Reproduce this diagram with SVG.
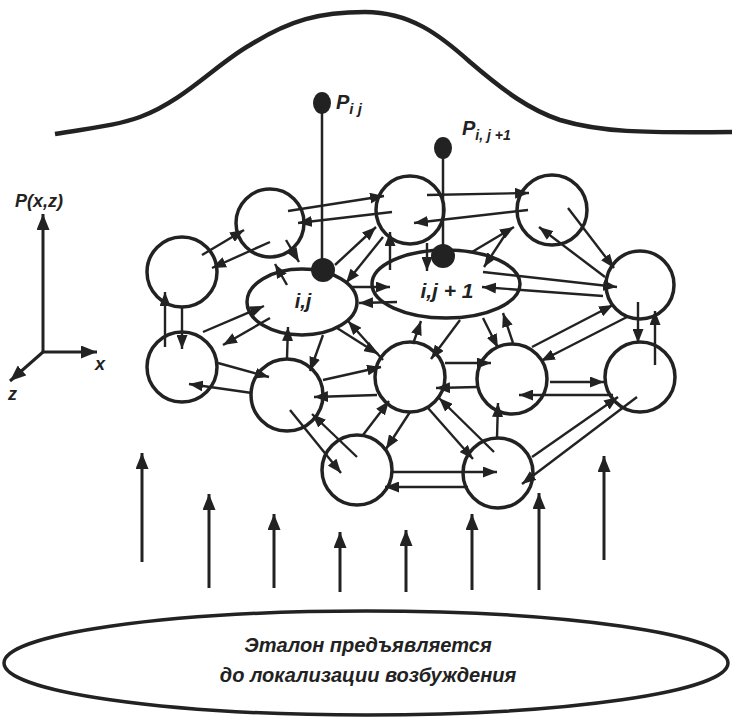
<svg xmlns="http://www.w3.org/2000/svg" width="732" height="719" viewBox="0 0 732 719">
<style>
.n{fill:none;stroke:#222;stroke-width:3.5}
.c line{stroke:#222;stroke-width:2.4;marker-end:url(#ah)}
.up line{stroke:#222;stroke-width:3;marker-end:url(#ahb)}
.t{font-family:"Liberation Sans",Arial,sans-serif;font-style:italic;font-weight:bold;fill:#222}
.dot{fill:#222}
</style>
<defs>
<marker id="ah" markerUnits="userSpaceOnUse" markerWidth="14" markerHeight="11" refX="14" refY="5.5" orient="auto"><path d="M0,0 L14,5.5 L0,11 z" fill="#222"/></marker>
<marker id="ahb" markerUnits="userSpaceOnUse" markerWidth="16" markerHeight="13" refX="16" refY="6.5" orient="auto"><path d="M0,0 L16,6.5 L0,13 z" fill="#222"/></marker>
</defs>
<rect width="732" height="719" fill="#fff"/>

<g id="curve"><path d="M55,134 C90,128 115,126 140,117 C185,100 215,65 250,45 C290,20 320,12 365,12 C410,12 440,35 470,62 C505,92 530,110 560,120 C600,132 640,133 732,132" fill="none" stroke="#222" stroke-width="4.5"/></g>

<g id="axes">
<g class="up"><line x1="43" y1="352" x2="43" y2="214"/><line x1="43" y1="352" x2="97" y2="352"/><line x1="43" y1="352" x2="10" y2="381"/></g>
<text class="t" x="15" y="207" font-size="18">P(x,z)</text>
<text class="t" x="95" y="370" font-size="18">x</text>
<text class="t" x="8" y="400" font-size="18">z</text>
</g>

<g id="probe-ij">
<line x1="322" y1="103" x2="322" y2="270" stroke="#222" stroke-width="2.5"/>
<ellipse class="dot" cx="322" cy="103" rx="9" ry="11"/>
<text class="t" x="336" y="109" font-size="20">P<tspan font-size="15" dy="5">i j</tspan></text>
</g>
<g id="probe-ij1">
<line x1="443" y1="148" x2="443" y2="256" stroke="#222" stroke-width="2.5"/>
<ellipse class="dot" cx="443" cy="148" rx="9" ry="11"/>
<text class="t" x="462" y="135" font-size="20">P<tspan font-size="14" dy="5">i, j +1</tspan></text>
</g>

<g id="connectors" class="c">
<line x1="202" y1="255" x2="244" y2="230"/>
<line x1="270" y1="242" x2="212" y2="268"/>
<line x1="288" y1="211" x2="384" y2="196"/>
<line x1="392" y1="212" x2="298" y2="223"/>
<line x1="286" y1="240" x2="299" y2="262"/>
<line x1="287" y1="285" x2="275" y2="264"/>
<line x1="165" y1="347" x2="165" y2="292"/>
<line x1="182" y1="307" x2="182" y2="349"/>
<line x1="203" y1="332" x2="264" y2="306"/>
<line x1="270" y1="318" x2="223" y2="345"/>
<line x1="218" y1="363" x2="269" y2="377"/>
<line x1="252" y1="393" x2="189" y2="384"/>
<line x1="335" y1="265" x2="376" y2="227"/>
<line x1="383" y1="237" x2="346" y2="283"/>
<line x1="350" y1="287" x2="390" y2="287"/>
<line x1="397" y1="302" x2="359" y2="303"/>
<line x1="390" y1="270" x2="390" y2="232"/>
<line x1="427" y1="243" x2="427" y2="271"/>
<line x1="427" y1="195" x2="529" y2="193"/>
<line x1="528" y1="210" x2="414" y2="223"/>
<line x1="472" y1="252" x2="514" y2="227"/>
<line x1="507" y1="232" x2="484" y2="267"/>
<line x1="568" y1="208" x2="614" y2="268"/>
<line x1="605" y1="277" x2="539" y2="227"/>
<line x1="483" y1="272" x2="617" y2="287"/>
<line x1="603" y1="296" x2="482" y2="287"/>
<line x1="638" y1="302" x2="638" y2="343"/>
<line x1="655" y1="365" x2="655" y2="311"/>
<line x1="532" y1="347" x2="613" y2="305"/>
<line x1="627" y1="317" x2="541" y2="361"/>
<line x1="413" y1="344" x2="421" y2="321"/>
<line x1="460" y1="320" x2="431" y2="359"/>
<line x1="483" y1="318" x2="498" y2="348"/>
<line x1="513" y1="343" x2="503" y2="313"/>
<line x1="383" y1="360" x2="348" y2="321"/>
<line x1="337" y1="328" x2="378" y2="354"/>
<line x1="287" y1="358" x2="288" y2="327"/>
<line x1="323" y1="335" x2="310" y2="371"/>
<line x1="323" y1="380" x2="381" y2="367"/>
<line x1="377" y1="395" x2="314" y2="397"/>
<line x1="290" y1="410" x2="341" y2="473"/>
<line x1="357" y1="457" x2="312" y2="414"/>
<line x1="363" y1="435" x2="389" y2="401"/>
<line x1="410" y1="412" x2="386" y2="449"/>
<line x1="445" y1="363" x2="491" y2="363"/>
<line x1="478" y1="387" x2="436" y2="388"/>
<line x1="428" y1="408" x2="473" y2="459"/>
<line x1="494" y1="452" x2="439" y2="398"/>
<line x1="393" y1="472" x2="497" y2="472"/>
<line x1="468" y1="487" x2="385" y2="487"/>
<line x1="497" y1="437" x2="498" y2="403"/>
<line x1="532" y1="457" x2="618" y2="397"/>
<line x1="637" y1="397" x2="522" y2="484"/>
<line x1="550" y1="382" x2="604" y2="382"/>
<line x1="613" y1="395" x2="519" y2="395"/>
</g>

<g id="A"><circle class="n" cx="182" cy="272" r="35"/></g>
<g id="B"><circle class="n" cx="270" cy="223" r="34"/></g>
<g id="C"><circle class="n" cx="410" cy="210" r="34"/></g>
<g id="D"><circle class="n" cx="552" cy="210" r="35"/></g>
<g id="E"><circle class="n" cx="640" cy="285" r="34"/></g>
<g id="Eij"><ellipse class="n" cx="302" cy="302" rx="55" ry="33"/><text class="t" x="303" y="308" font-size="20" text-anchor="middle">i,j</text><circle class="dot" cx="323" cy="270" r="12"/></g>
<g id="Eij1"><ellipse class="n" cx="446" cy="284" rx="74" ry="34"/><text class="t" x="447" y="298" font-size="21" text-anchor="middle">i,j + 1</text><circle class="dot" cx="443" cy="256" r="12"/></g>
<g id="F"><circle class="n" cx="182" cy="367" r="35"/></g>
<g id="G"><circle class="n" cx="287" cy="395" r="36"/></g>
<g id="H"><circle class="n" cx="410" cy="377" r="35"/></g>
<g id="J"><circle class="n" cx="512" cy="379" r="35"/></g>
<g id="K"><circle class="n" cx="640" cy="377" r="35"/></g>
<g id="I"><circle class="n" cx="357" cy="470" r="35"/></g>
<g id="L"><circle class="n" cx="498" cy="473" r="35"/></g>

<g id="excitation" class="up">
<line x1="142" y1="562" x2="142" y2="453"/>
<line x1="209" y1="588" x2="209" y2="494"/>
<line x1="274" y1="588" x2="274" y2="514"/>
<line x1="340" y1="592" x2="340" y2="532"/>
<line x1="406" y1="592" x2="406" y2="530"/>
<line x1="472" y1="590" x2="472" y2="514"/>
<line x1="539" y1="590" x2="539" y2="493"/>
<line x1="604" y1="560" x2="604" y2="456"/>
</g>

<g id="etalon">
<ellipse cx="366" cy="663" rx="362" ry="52" fill="none" stroke="#222" stroke-width="3.5"/>
<text class="t" x="368" y="652" font-size="20" text-anchor="middle">Эталон предъявляется</text>
<text class="t" x="368" y="682" font-size="20" text-anchor="middle">до локализации возбуждения</text>
</g>
</svg>
